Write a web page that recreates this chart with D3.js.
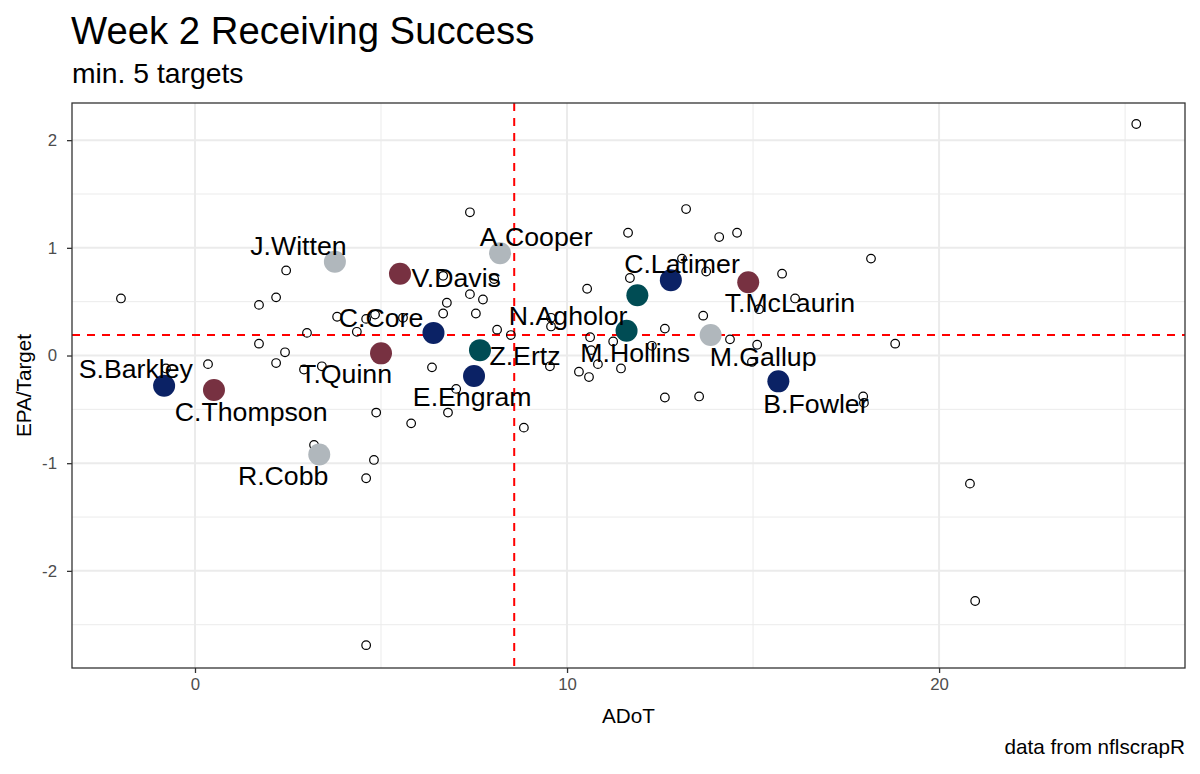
<!DOCTYPE html>
<html><head><meta charset="utf-8">
<script src="https://cdn.jsdelivr.net/npm/d3@7/dist/d3.min.js"></script>
<style>body{margin:0;background:#fff}svg{display:block}text{font-family:"Liberation Sans",Arial,sans-serif}</style>
</head><body>
<script>
// ---- data ----
const otherADoT = [-1.99,-0.78,0.35,1.72,2.18,2.45,1.72,2.18,2.42,3.01,2.93,3.41,3.20,3.82,4.35,4.60,4.84,5.59,6.37,4.87,5.81,6.80,7.02,8.84,4.81,4.60,4.60,7.39,6.67,8.04,7.39,7.74,6.77,6.67,7.55,8.12,8.49,9.57,9.57,9.54,10.54,10.62,10.65,10.83,10.32,10.59,11.45,11.24,12.28,12.63,11.64,11.69,13.20,14.09,14.57,13.09,13.74,15.78,16.13,15.16,13.66,14.38,15.11,14.97,12.63,13.55,17.96,17.98,18.17,18.82,20.83,20.97,25.30];
const otherEPA  = [0.53,-0.12,-0.08,0.47,0.54,0.79,0.11,-0.07,0.03,0.21,-0.13,-0.10,-0.83,0.36,0.22,0.34,0.38,0.35,-0.11,-0.53,-0.63,-0.53,-0.31,-0.67,-0.97,-1.14,-2.69,1.33,0.74,0.71,0.57,0.52,0.49,0.39,0.39,0.24,0.19,0.35,0.27,-0.10,0.62,0.17,0.05,-0.08,-0.15,-0.20,-0.12,0.13,0.09,0.25,1.14,0.72,1.36,1.10,1.14,0.90,0.78,0.76,0.53,0.43,0.37,0.15,0.10,-0.06,-0.39,-0.38,-0.38,-0.44,0.90,0.11,-1.19,-2.28,2.15];

const players  = ["S.Barkley","C.Thompson","J.Witten","R.Cobb","V.Davis","T.Quinn","C.Core","E.Engram","Z.Ertz","A.Cooper","N.Agholor","M.Hollins","C.Latimer","T.McLaurin","M.Gallup","B.Fowler"];
const playerTeam = ["NYG","WAS","DAL","DAL","WAS","WAS","NYG","NYG","PHI","DAL","PHI","PHI","NYG","WAS","DAL","NYG"];
const playerADoT = [-0.83,0.51,3.76,3.34,5.51,5.00,6.41,7.50,7.66,8.20,11.89,11.60,12.79,14.87,13.86,15.68];
const playerEPA  = [-0.28,-0.32,0.87,-0.92,0.76,0.02,0.21,-0.19,0.05,0.95,0.56,0.23,0.70,0.68,0.19,-0.24];
// label anchor points (repelled label centres, data units)
const labelADoT = [-1.59,1.51,2.78,2.37,7.02,4.06,5.00,7.45,8.87,9.17,10.03,11.83,13.09,15.99,15.27,16.69];
const labelEPA  = [-0.12,-0.52,1.02,-1.11,0.73,-0.17,0.35,-0.38,0.00,1.11,0.37,0.03,0.86,0.49,-0.01,-0.44];

const meanADoT = 8.58, meanEPA = 0.19;
const xTicks = [0,10,20], xMinor = [5,15,25];
const yTicks = [-2,-1,0,1,2], yMinor = [-2.5,-1.5,-0.5,0.5,1.5];
const teams = ["NYG","WAS","DAL","PHI"];
const teamColors = ["#0B2265","#773141","#B0B7BC","#004C54"];

// ---- layout ----
const W = 1200, H = 774;
const L = 72, R = 1185, T = 103, B = 668;
const x = d3.scaleLinear().domain([-3.306, 26.61]).range([L, R]);
const y = d3.scaleLinear().domain([-2.902, 2.345]).range([B, T]);
const color = d3.scaleOrdinal().domain(teams).range(teamColors);
const fmt = d => String(d); // ASCII hyphen-minus like the reference

const svg = d3.select("body").append("svg").attr("width", W).attr("height", H);
svg.append("rect").attr("width", W).attr("height", H).attr("fill", "#fff");

svg.append("clipPath").attr("id","pc").append("rect")
  .attr("x", L).attr("y", T).attr("width", R-L).attr("height", B-T);

const grid = svg.append("g").attr("clip-path","url(#pc)");
grid.selectAll(".xm").data(xMinor).join("line")
  .attr("x1", d=>x(d)).attr("x2", d=>x(d)).attr("y1", T).attr("y2", B)
  .attr("stroke", "#EBEBEB").attr("stroke-width", 1);
grid.selectAll(".ym").data(yMinor).join("line")
  .attr("y1", d=>y(d)).attr("y2", d=>y(d)).attr("x1", L).attr("x2", R)
  .attr("stroke", "#EBEBEB").attr("stroke-width", 1);
grid.selectAll(".xM").data(xTicks).join("line")
  .attr("x1", d=>x(d)).attr("x2", d=>x(d)).attr("y1", T).attr("y2", B)
  .attr("stroke", "#EBEBEB").attr("stroke-width", 2);
grid.selectAll(".yM").data(yTicks).join("line")
  .attr("y1", d=>y(d)).attr("y2", d=>y(d)).attr("x1", L).attr("x2", R)
  .attr("stroke", "#EBEBEB").attr("stroke-width", 2);

// mean lines
const plot = svg.append("g").attr("clip-path","url(#pc)");
plot.append("line").attr("x1", L).attr("x2", R).attr("y1", y(meanEPA)).attr("y2", y(meanEPA))
  .attr("stroke", "#FF0000").attr("stroke-width", 2).attr("stroke-dasharray", "8,7");
plot.append("line").attr("x1", x(meanADoT)).attr("x2", x(meanADoT)).attr("y1", T).attr("y2", B)
  .attr("stroke", "#FF0000").attr("stroke-width", 2).attr("stroke-dasharray", "8,7");

// other receivers
plot.selectAll(".o").data(otherADoT.map((v,i)=>[v, otherEPA[i]])).join("circle")
  .attr("cx", d=>x(d[0])).attr("cy", d=>y(d[1])).attr("r", 4.3)
  .attr("fill", "none").attr("stroke", "#000").attr("stroke-width", 1.2);

// highlighted receivers
const hp = players.map((p,i)=>({name:p, team:playerTeam[i], x:playerADoT[i], y:playerEPA[i], lx:labelADoT[i], ly:labelEPA[i]}));
plot.selectAll(".p").data(hp).join("circle")
  .attr("cx", d=>x(d.x)).attr("cy", d=>y(d.y)).attr("r", 11)
  .attr("fill", d=>color(d.team));

// labels
svg.append("g").selectAll("text").data(hp).join("text")
  .attr("x", d=>x(d.lx)).attr("y", d=>y(d.ly)).attr("dy", "0.36em")
  .attr("text-anchor", "middle").attr("font-size", 26.7).attr("fill", "#000")
  .text(d=>d.name);

// panel border
svg.append("rect").attr("x", L).attr("y", T).attr("width", R-L).attr("height", B-T)
  .attr("fill", "none").attr("stroke", "#333333").attr("stroke-width", 1.3);

// axes
const xAxis = svg.append("g").attr("transform", `translate(0,${B})`)
  .call(d3.axisBottom(x).tickValues(xTicks).tickSize(5).tickPadding(5).tickFormat(fmt));
const yAxis = svg.append("g").attr("transform", `translate(${L},0)`)
  .call(d3.axisLeft(y).tickValues(yTicks).tickSize(5).tickPadding(10).tickFormat(fmt));
[xAxis, yAxis].forEach(a=>{
  a.select(".domain").remove();
  a.selectAll(".tick line").attr("stroke", "#333333").attr("stroke-width", 1.3);
  a.selectAll(".tick text").attr("fill", "#4D4D4D").attr("font-size", 16.8)
    .attr("font-family", '"Liberation Sans",Arial,sans-serif');
});

// titles
svg.append("text").attr("x", 71).attr("y", 44).attr("font-size", 38.3).attr("fill","#000")
  .text("Week 2 Receiving Success");
svg.append("text").attr("x", 72).attr("y", 83).attr("font-size", 28.3).attr("fill","#000")
  .text("min. 5 targets");
svg.append("text").attr("x", (L+R)/2).attr("y", 723).attr("text-anchor","middle")
  .attr("font-size", 20.7).attr("fill","#000").text("ADoT");
svg.append("text").attr("transform", `translate(31,${(T+B)/2}) rotate(-90)`).attr("text-anchor","middle")
  .attr("font-size", 20.7).attr("fill","#000").text("EPA/Target");
svg.append("text").attr("x", R).attr("y", 754).attr("text-anchor","end")
  .attr("font-size", 20.7).attr("fill","#000").text("data from nflscrapR");
</script>
</body></html>
